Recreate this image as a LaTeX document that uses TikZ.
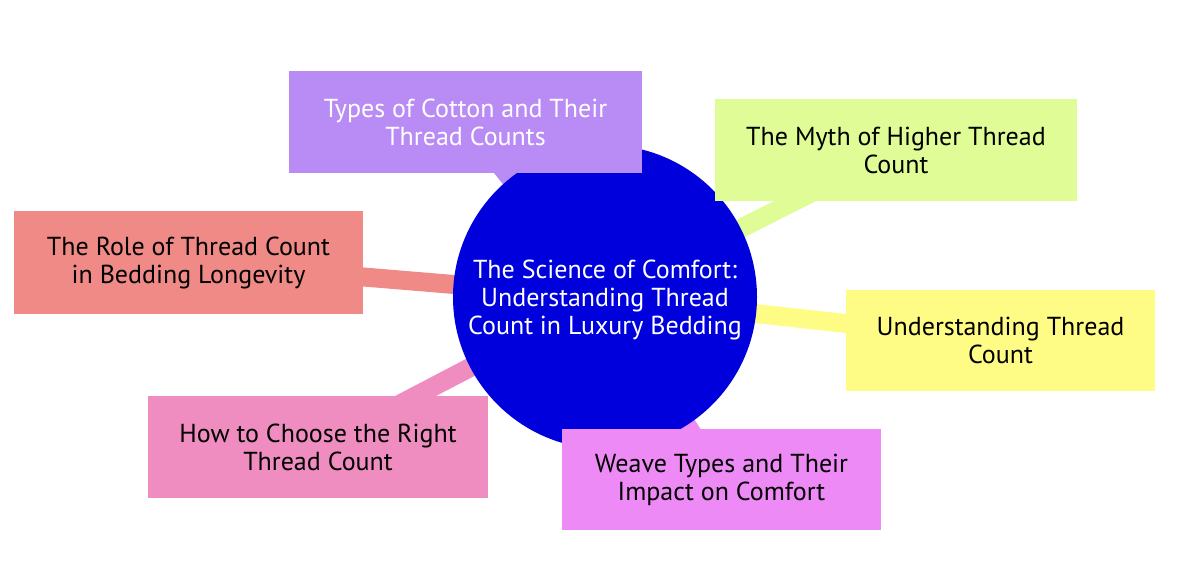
\documentclass[tikz,border=0pt]{standalone}
\usepackage{fontspec}
\setmainfont{PT Sans}
\definecolor{cpurple}{HTML}{B98BF5}
\definecolor{cgreen}{HTML}{E0FC96}
\definecolor{csalmon}{HTML}{F08A87}
\definecolor{cyellow}{HTML}{FFFC86}
\definecolor{cviolet}{HTML}{EE8AF5}
\definecolor{cpink}{HTML}{F08DC0}
\definecolor{cblue}{HTML}{0000DD}
\tikzset{
  topic/.style={rectangle, inner sep=0pt, align=center, font=\fontsize{26bp}{28bp}\selectfont},
  root/.style={circle, fill=cblue, minimum size=304bp, inner sep=0pt, align=center, text=white, font=\fontsize{26bp}{28bp}\selectfont},
  link/.style={line width=19bp},
}
\begin{document}
\begin{tikzpicture}[x=1bp,y=-1bp]
\useasboundingbox (0,0) rectangle (1200,565);
% node positions (centres)
\coordinate (cR) at (605,297);
\coordinate (cP) at (465.5,122);
\coordinate (cG) at (896,150);
\coordinate (cS) at (188.5,262.5);
\coordinate (cY) at (1000.5,340.5);
\coordinate (cV) at (721.5,479.5);
\coordinate (cK) at (318,447);
% connectors
\draw[link, cpurple] (cR) -- (cP);
\draw[link, cgreen] (cR) -- (cG);
\draw[link, csalmon] (cR) -- (cS);
\draw[link, cyellow] (cR) -- (cY);
\draw[link, cviolet] (cR) -- (cV);
\draw[link, cpink] (cR) -- (cK);
% root
\node[root] (root) at (cR) {};
\node[text=white, align=center, inner sep=0pt, font=\fontsize{26bp}{28bp}\selectfont] (roottext) at ([yshift=-3bp]root.center) {The Science of Comfort:\\Understanding Thread\\Count in Luxury Bedding};
% topics
\node[topic, fill=cpurple, text=white, minimum width=353bp, minimum height=102bp] (cotton) at (cP) {Types of Cotton and Their\\Thread Counts};
\node[topic, fill=cgreen, minimum width=362bp, minimum height=102bp] (myth) at (cG) {The Myth of Higher Thread\\Count};
\node[topic, fill=csalmon, minimum width=349bp, minimum height=102bp] (role) at (cS) {The Role of Thread Count\\in Bedding Longevity};
\node[topic, fill=cyellow, minimum width=309bp, minimum height=101bp] (underst) at (cY) {Understanding Thread\\Count};
\node[topic, fill=cviolet, minimum width=319bp, minimum height=101bp] (weave) at (cV) {Weave Types and Their\\Impact on Comfort};
\node[topic, fill=cpink, minimum width=339bp, minimum height=102bp] (choose) at (cK) {How to Choose the Right\\Thread Count};
\end{tikzpicture}
\end{document}
